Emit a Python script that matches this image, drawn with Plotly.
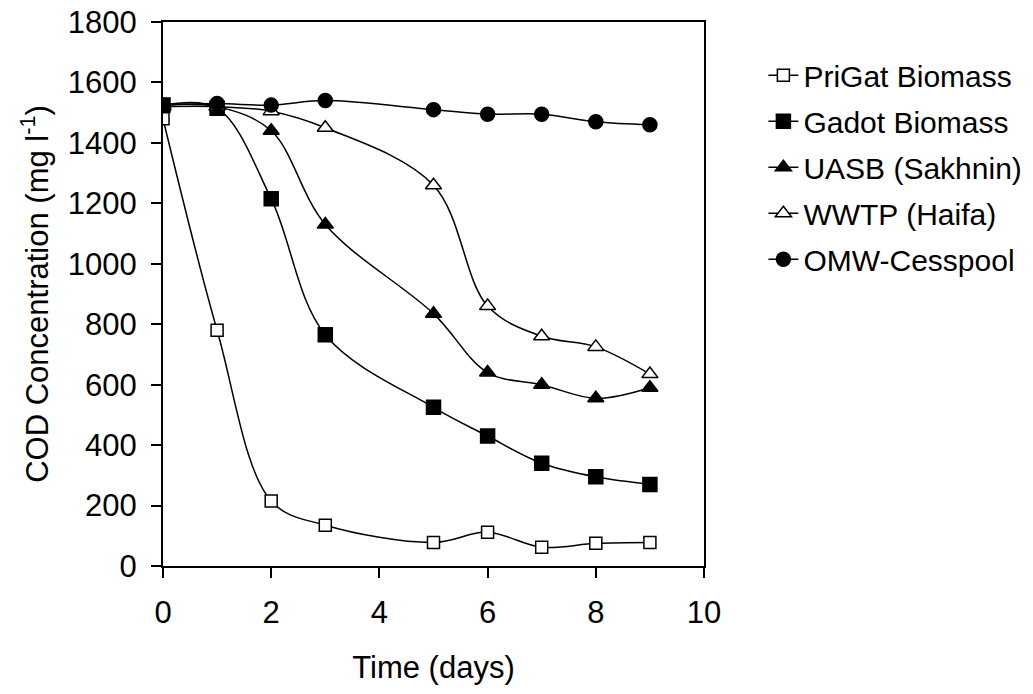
import plotly.graph_objects as go

days = [0, 1, 2, 3, 5, 6, 7, 8, 9]
prigat = [1480, 780, 215, 135, 78, 112, 62, 75, 78]
gadot = [1525, 1515, 1215, 765, 525, 430, 340, 295, 270]
uasb = [1525, 1520, 1440, 1130, 835, 640, 600, 555, 590]
wwtp = [1520, 1520, 1505, 1450, 1260, 860, 760, 725, 635]
omw = [1525, 1530, 1525, 1540, 1510, 1495, 1495, 1470, 1460]

names = ["PriGat Biomass", "Gadot Biomass", "UASB (Sakhnin)", "WWTP (Haifa)", "OMW-Cesspool"]
series = [prigat, gadot, uasb, wwtp, omw]
symbols = ["square", "square", "triangle-up", "triangle-up", "circle"]
fills = ["white", "black", "black", "white", "black"]
sizes = [12, 14, 14, 14, 14]

fig = go.Figure()
for i, (nm, ys, sym, fc, sz) in enumerate(zip(names, series, symbols, fills, sizes)):
    fig.add_trace(go.Scatter(
        x=days, y=ys, name=nm, mode="lines+markers",
        line=dict(color="black", width=1.5, shape="spline", smoothing=1.0),
        marker=dict(symbol=sym, size=sz, color=fc,
                    line=dict(color="black", width=1.5)),
        legendgroup=f"g{i}",
    ))

font = "Liberation Sans, Arial, sans-serif"
fig.update_layout(
    width=1033, height=694,
    margin=dict(l=163, r=329, t=22, b=128, autoexpand=False),
    plot_bgcolor="white", paper_bgcolor="white",
    font=dict(family=font, size=31, color="black"),
    showlegend=True,
    legend=dict(x=0.739, y=0.929, xref="container", yref="container",
                xanchor="left", yanchor="top",
                font=dict(size=30, family=font), tracegroupgap=4,
                bgcolor="rgba(0,0,0,0)"),
    xaxis=dict(range=[0, 10], tickvals=[0, 2, 4, 6, 8, 10], showgrid=False, zeroline=False,
               showline=True, linecolor="black", linewidth=2, mirror=True,
               ticks="outside", ticklen=10, tickwidth=1.5, tickcolor="black",
               tickfont=dict(size=31), ticklabelstandoff=8,
               title=dict(text="Time (days)", standoff=27, font=dict(size=31))),
    yaxis=dict(range=[0, 1800], tickvals=list(range(0, 1801, 200)), showgrid=False, zeroline=False,
               showline=True, linecolor="black", linewidth=2, mirror=True,
               ticks="outside", ticklen=10, tickwidth=1.5, tickcolor="black",
               tickfont=dict(size=31), ticklabelstandoff=8,
               title=dict(text="COD Concentration (mg l<sup>-1</sup>)", standoff=10, font=dict(size=31))),
)
fig.write_html("out.html")
